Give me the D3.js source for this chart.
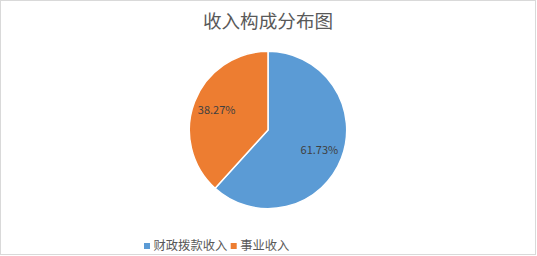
<!DOCTYPE html>
<html><head><meta charset="utf-8">
<script src="https://cdn.jsdelivr.net/npm/d3@7"></script>
<style>html,body{margin:0;padding:0;background:#fff;}svg{display:block;}</style>
</head><body>
<script>
const categories = ["财政拨款收入", "事业收入"];
const values = [61.73, 38.27];
const labels = ["61.73%", "38.27%"];
const colors = ["#5B9BD5", "#ED7D31"];
const title = "收入构成分布图";

const W = 537, H = 256;
const font = "'Noto Sans CJK SC', 'Microsoft YaHei', sans-serif";
const svg = d3.select("body").append("svg").attr("width", W).attr("height", H);

svg.append("rect").attr("x", 0.5).attr("y", 0.5).attr("width", 535).attr("height", 254)
  .attr("fill", "#fff").attr("stroke", "#d9d9d9").attr("stroke-width", 1);

svg.append("text").attr("x", 268).attr("y", 28).attr("text-anchor", "middle")
  .attr("font-family", font).attr("font-size", 18.6).attr("fill", "#595959").text(title);

const cx = 268, cy = 130, r = 78.7;
const pie = d3.pie().sort(null).value(d => d);
const arcs = pie(values);
const arc = d3.arc().innerRadius(0).outerRadius(r);
const labelArc = d3.arc().innerRadius(r * 0.7).outerRadius(r * 0.7);
const g = svg.append("g").attr("transform", `translate(${cx},${cy})`);
g.selectAll("path").data(arcs).join("path")
  .attr("d", arc).attr("fill", (d, i) => colors[i])
  .attr("stroke", "#fff").attr("stroke-width", 1.5);
g.selectAll("text").data(arcs).join("text")
  .attr("transform", d => `translate(${labelArc.centroid(d)})`)
  .attr("text-anchor", "middle").attr("dy", "0.35em")
  .attr("font-family", font).attr("font-size", 11).attr("fill", "#404040")
  .text((d, i) => labels[i]);

// legend
const legendX = [144, 230.7];
const lg = svg.append("g");
categories.forEach((c, i) => {
  lg.append("rect").attr("x", legendX[i]).attr("y", 243).attr("width", 6).attr("height", 6).attr("fill", colors[i]);
  lg.append("text").attr("x", legendX[i] + 9.5).attr("y", 250).attr("font-family", font)
    .attr("font-size", 12.3).attr("fill", "#595959").text(c);
});
</script>
</body></html>
